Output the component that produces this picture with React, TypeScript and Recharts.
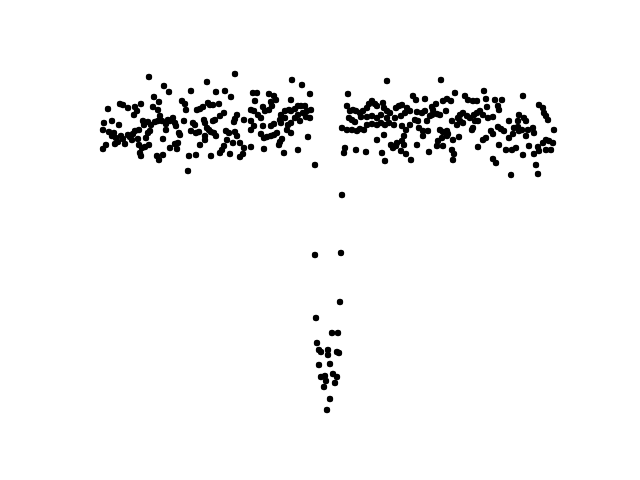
import React from "react";
import { ScatterChart, Scatter, XAxis, YAxis } from "recharts";

// [time, relative flux]
const preTransit: [number, number][] = [
  [69,43],[84,34],[89,28],[28,11],[40,16],[43,15],[48,12],[55,13],[57,9],[61,16],[54,5],[74,23],[79,18],[73,13],[78,10],
  [24,-3],[32,-1],[39,-5],[23,-10],[29,-12],[32,-16],[34,-13],[36,-18],[38,-22],[35,-24],[26,-25],[23,-29],[41,-16],[43,-19],
  [45,-24],[48,-15],[50,-17],[53,-14],[55,-11],[59,-10],[52,-20],[58,-19],[59,-25],[62,-28],[65,-27],[60,-33],[61,-36],[68,-13],
  [66,-18],[70,-11],[64,-5],[63,-1],[68,-2],[71,-5],[75,-2],[78,-1],[80,4],[82,-1],[86,-4],[88,0],[90,-1],[93,2],[83,-19],
  [86,-10],[90,-28],[95,-24],[77,-36],[79,-40],[83,-35],[69,-25],
  [155,46],[127,38],[111,29],[136,28],[145,29],[151,23],[102,19],[105,16],[106,10],[117,10],[120,11],[123,13],[128,17],[130,15],
  [133,15],[139,16],[144,7],[140,4],[135,0],[133,-1],[124,0],[125,-3],[113,-3],[115,-5],[104,-1],[95,-3],[96,-6],[157,5],[155,1],
  [154,-2],[164,0],[99,-13],[100,-15],[111,-11],[116,-13],[119,-12],[127,-8],[129,-10],[131,-12],[134,-13],[136,-16],[125,-16],
  [125,-20],[120,-25],[146,-11],[149,-13],[155,-12],[157,-16],[147,-20],[153,-23],[160,-23],[164,-28],[144,-26],[142,-30],
  [140,-33],[150,-34],[160,-37],[163,-34],[98,-23],[97,-29],[109,-36],[116,-35],[131,-36],[108,-51],
  [212,40],[222,35],[230,26],[173,27],[177,27],[189,26],[194,24],[196,20],[191,18],[175,19],[211,20],[171,10],[174,9],[178,5],
  [183,13],[185,9],[189,10],[192,14],[181,2],[201,5],[205,9],[209,10],[211,9],[215,11],[218,14],[221,14],[225,14],[227,9],[223,7],
  [226,3],[230,2],[231,10],[218,5],[215,2],[220,-1],[211,-3],[208,-5],[205,2],[200,0],[201,-3],[191,-6],[194,-4],[171,-1],[174,-6],
  [171,-10],[183,-6],[181,-14],[184,-18],[187,-17],[191,-16],[194,-15],[197,-13],[207,-10],[211,-13],[202,-19],[200,-22],[199,-25],
  [171,-27],[184,-29],[204,-33],[218,-30],[228,-17],[235,-45],
];

const inTransit: [number, number][] = [
  [262,-75],[235,-135],[261,-133],[260,-182],[236,-198],[252,-213],[258,-213],[237,-223],[239,-230],[241,-232],[248,-230],
  [248,-235],[257,-232],[259,-233],[250,-244],[239,-245],[241,-257],[245,-256],[253,-254],[257,-257],[246,-261],[255,-263],
  [244,-267],[250,-279],[247,-290],
];

const postTransit: [number, number][] = [
  [307,39],[268,26],[267,14],[270,9],[273,10],[276,9],[280,7],[283,9],[287,12],[289,16],[292,19],[295,16],[297,14],[303,17],
  [304,12],[307,9],[310,7],[316,12],[319,14],[322,15],[327,12],[330,9],[325,7],[321,4],[315,2],[307,2],[301,5],[297,2],[292,4],
  [287,3],[281,3],[272,0],[275,-2],[269,2],[262,-8],[267,-10],[272,-10],[277,-11],[280,-9],[284,-10],[287,-5],[292,-4],[297,-5],
  [301,-3],[305,-5],[309,-3],[314,-5],[322,-6],[326,-10],[330,-5],[324,-16],[322,-21],[324,-25],[304,-15],[297,-20],[311,-25],
  [313,-28],[316,-26],[317,-23],[321,-31],[326,-34],[331,-40],[265,-28],[264,-33],[276,-30],[286,-32],[302,-33],[305,-41],
  [361,40],[333,24],[336,20],[345,21],[356,16],[352,13],[353,10],[363,19],[367,21],[371,19],[375,27],[385,24],[388,20],[393,19],
  [397,19],[404,29],[406,21],[407,13],[337,8],[342,7],[345,9],[335,0],[338,-1],[347,-1],[350,4],[352,5],[357,6],[360,5],[366,9],
  [372,-1],[378,2],[380,5],[383,7],[387,4],[390,2],[394,5],[397,7],[400,9],[403,5],[398,-1],[395,-1],[380,-1],[377,-5],[383,-3],
  [408,2],[339,-8],[343,-11],[348,-11],[343,-16],[360,-10],[363,-12],[367,-11],[368,-14],[362,-18],[358,-21],[357,-26],[363,-26],
  [367,-16],[373,-20],[379,-17],[392,-10],[393,-8],[403,-20],[406,-18],[398,-27],[337,-25],[349,-32],[372,-30],[374,-34],[373,-40],
  [443,24],[415,20],[422,20],[418,14],[419,10],[459,15],[463,12],[464,7],[466,4],[468,0],[413,3],[439,5],[444,2],[446,-1],[429,-1],
  [438,-1],[418,-7],[421,-9],[424,-11],[411,-11],[413,-14],[434,-8],[438,-7],[439,-11],[442,-10],[448,-10],[453,-8],[454,-13],
  [446,-16],[433,-14],[429,-18],[419,-25],[426,-30],[432,-30],[436,-28],[449,-26],[458,-27],[459,-31],[463,-23],[466,-20],[469,-21],
  [473,-23],[471,-30],[474,-10],[466,-30],[454,-34],[443,-35],[413,-39],[416,-43],[456,-45],[458,-54],[431,-55],
];

const toRows = (arr: [number, number][]) => arr.map(([t, f]) => ({ t, f }));
const allData = [...toRows(preTransit), ...toRows(inTransit), ...toRows(postTransit)];

const Dot = (props: any) => {
  const { cx, cy } = props;
  return <circle cx={cx} cy={cy} r={3.2} fill="#000000" />;
};

export default function App() {
  return (
    <div style={{ position: "absolute", left: 0, top: 0, width: 640, height: 480, background: "#fff" }}>
      <ScatterChart width={640} height={480} margin={{ top: 58, right: 64, bottom: 53, left: 80 }}>
        <XAxis type="number" dataKey="t" domain={[0, 496]} hide />
        <YAxis type="number" dataKey="f" domain={[-307, 62]} hide />
        <Scatter data={allData} shape={<Dot />} isAnimationActive={false} />
      </ScatterChart>
    </div>
  );
}
